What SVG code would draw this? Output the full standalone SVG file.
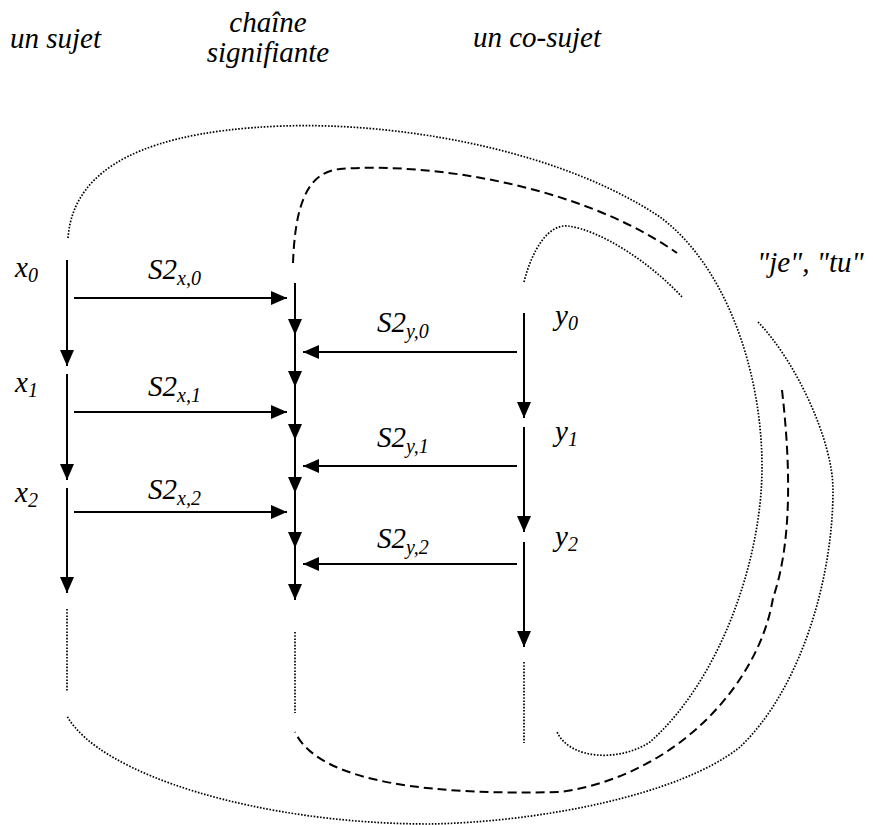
<svg xmlns="http://www.w3.org/2000/svg" width="873" height="825" viewBox="0 0 873 825">
<style>
text{font-family:'Liberation Serif','Times New Roman',Times,serif;font-style:italic;fill:#000}
.h{font-size:29px}
.l{font-size:29px}
.sub{font-size:20px}
.ar{stroke:#000;stroke-width:2;fill:none;marker-end:url(#ah)}
.dot{stroke:#000;stroke-width:1.7;fill:none;stroke-dasharray:1.6 1.6}
.dash{stroke:#000;stroke-width:2;fill:none;stroke-dasharray:9 5}
</style>
<defs>
<marker id="ah" markerUnits="userSpaceOnUse" markerWidth="16" markerHeight="14" refX="16" refY="7" orient="auto">
<path d="M0,0 L16,7 L0,14 z" fill="#000"/>
</marker>
</defs>
<rect width="873" height="825" fill="#fff"/>

<g id="header-sujet"><text class="h" x="10" y="48">un sujet</text></g>
<g id="header-chaine"><text class="h" x="268" y="32" text-anchor="middle">chaîne</text><text class="h" x="268" y="62" text-anchor="middle">signifiante</text></g>
<g id="header-cosujet"><text class="h" x="473" y="47">un co-sujet</text></g>
<g id="label-jetu"><text class="h" x="757" y="272">"je", "tu"</text></g>

<g id="x0"><text class="l" x="15" y="277">x<tspan class="sub" dy="5">0</tspan></text></g>
<g id="x1"><text class="l" x="15" y="392">x<tspan class="sub" dy="5">1</tspan></text></g>
<g id="x2"><text class="l" x="15" y="502">x<tspan class="sub" dy="5">2</tspan></text></g>
<g id="y0"><text class="l" x="555" y="325">y<tspan class="sub" dy="5">0</tspan></text></g>
<g id="y1"><text class="l" x="555" y="441">y<tspan class="sub" dy="5">1</tspan></text></g>
<g id="y2"><text class="l" x="555" y="546">y<tspan class="sub" dy="5">2</tspan></text></g>

<g id="labels-S2">
<text class="l" x="148" y="279">S2<tspan class="sub" dy="6">x,0</tspan></text>
<text class="l" x="148" y="396">S2<tspan class="sub" dy="6">x,1</tspan></text>
<text class="l" x="148" y="499">S2<tspan class="sub" dy="6">x,2</tspan></text>
<text class="l" x="377" y="332">S2<tspan class="sub" dy="6">y,0</tspan></text>
<text class="l" x="377" y="447">S2<tspan class="sub" dy="6">y,1</tspan></text>
<text class="l" x="377" y="548">S2<tspan class="sub" dy="6">y,2</tspan></text>
</g>

<g id="connectors">
<line class="ar" x1="67" y1="260" x2="67" y2="366"/>
<line class="ar" x1="67" y1="374" x2="67" y2="480"/>
<line class="ar" x1="67" y1="488" x2="67" y2="593"/>
<line class="ar" x1="295" y1="283" x2="295" y2="335"/>
<line class="ar" x1="295" y1="335" x2="295" y2="387"/>
<line class="ar" x1="295" y1="387" x2="295" y2="440"/>
<line class="ar" x1="295" y1="440" x2="295" y2="493"/>
<line class="ar" x1="295" y1="493" x2="295" y2="548"/>
<line class="ar" x1="295" y1="548" x2="295" y2="600"/>
<line class="ar" x1="524" y1="313" x2="524" y2="418"/>
<line class="ar" x1="524" y1="427" x2="524" y2="532"/>
<line class="ar" x1="524" y1="542" x2="524" y2="647"/>
<line class="ar" x1="74" y1="298" x2="287" y2="298"/>
<line class="ar" x1="74" y1="412" x2="287" y2="412"/>
<line class="ar" x1="74" y1="512" x2="287" y2="512"/>
<line class="ar" x1="517" y1="352" x2="303" y2="352"/>
<line class="ar" x1="517" y1="466" x2="303" y2="466"/>
<line class="ar" x1="517" y1="564" x2="303" y2="564"/>
<line class="dot" x1="67" y1="609" x2="67" y2="691"/>
<line class="dot" x1="295" y1="632" x2="295" y2="713"/>
<line class="dot" x1="524" y1="662" x2="524" y2="743"/>
<path class="dot" d="M68,238 C72,185 115,132 283,126 C400,122 560,150 660,217 C725,265 762,370 762,467 C762,560 720,680 650,742 C620,762 570,760 557,732"/>
<path class="dot" d="M524,282 C532,250 548,224 568,226 C600,230 650,262 683,298"/>
<path class="dot" d="M758,322 C795,360 833,440 833,490 C833,580 800,690 740,747 C680,795 540,822 430,824 C260,824 100,775 67,716"/>
<path class="dash" d="M293,263 C295,210 305,172 340,169 C430,162 580,185 677,253"/>
<path class="dash" d="M782,390 C790,460 793,540 773,598 C760,680 680,775 560,792 C440,795 320,785 295,732"/>
</g>
</svg>
